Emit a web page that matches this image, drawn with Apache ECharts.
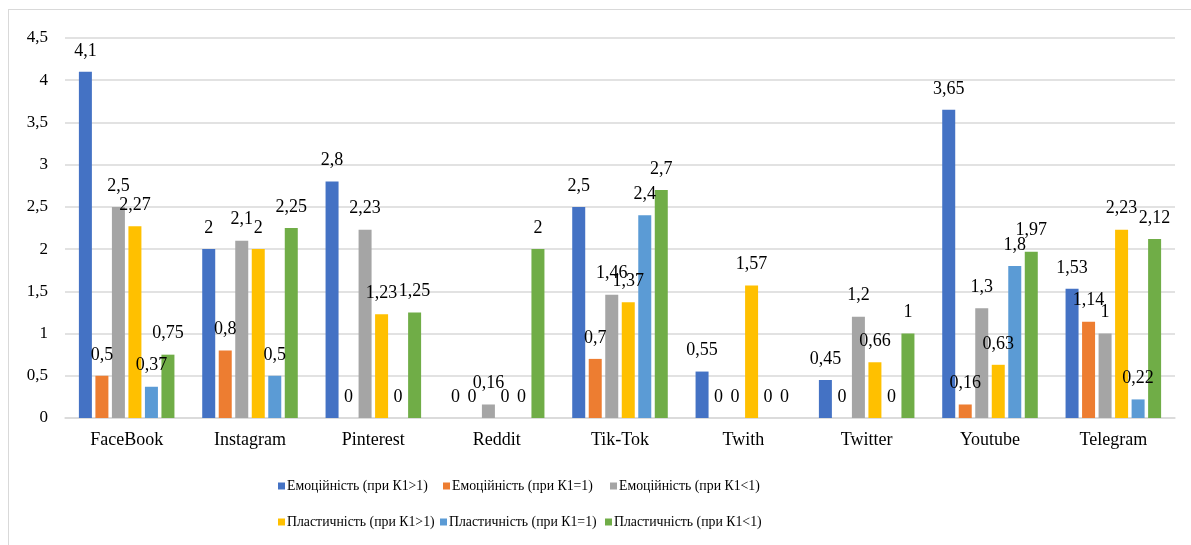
<!DOCTYPE html>
<html>
<head>
<meta charset="utf-8">
<script src="https://cdn.jsdelivr.net/npm/echarts@6/dist/echarts.min.js"></script>
<style>
html,body{margin:0;padding:0;background:#fff;}
#wrap{position:absolute;left:0;top:0;width:1191px;height:545px;}
#frame{position:absolute;left:8px;top:9px;width:1183px;height:536px;border-left:1px solid #d9d9d9;border-top:1px solid #d9d9d9;}
#chart{position:absolute;left:0;top:0;width:1191px;height:545px;}
</style>
</head>
<body>
<div id="wrap"><div id="frame"></div><div id="chart"></div></div>
<script>
const categories = ['FaceBook','Instagram','Pinterest','Reddit','Tik-Tok','Twith','Twitter','Youtube','Telegram'];
const seriesNames = ['Емоційність (при К1>1)','Емоційність (при К1=1)','Емоційність (при К1<1)',
  'Пластичність (при К1>1)','Пластичність (при К1=1)','Пластичність (при К1<1)'];
const emoGt1   = [4.1, 2, 2.8, 0, 2.5, 0.55, 0.45, 3.65, 1.53];
const emoEq1   = [0.5, 0.8, 0, 0, 0.7, 0, 0, 0.16, 1.14];
const emoLt1   = [2.5, 2.1, 2.23, 0.16, 1.46, 0, 1.2, 1.3, 1];
const plastGt1 = [2.27, 2, 1.23, 0, 1.37, 1.57, 0.66, 0.63, 2.23];
const plastEq1 = [0.37, 0.5, 0, 0, 2.4, 0, 0, 1.8, 0.22];
const plastLt1 = [0.75, 2.25, 1.25, 2, 2.7, 0, 1, 1.97, 2.12];
const yTicks = [0, 0.5, 1, 1.5, 2, 2.5, 3, 3.5, 4, 4.5];

const colors = ['#4472C4','#ED7D31','#A5A5A5','#FFC000','#5B9BD5','#70AD47'];
const allData = [emoGt1, emoEq1, emoLt1, plastGt1, plastEq1, plastLt1];
const font = '"Liberation Serif","Times New Roman",serif';
const fmt = v => String(v).replace('.', ',');

const legendLeft = [278, 443, 610, 278, 440, 605];
const legendTop  = [479, 479, 479, 515, 515, 515];

const chart = echarts.init(document.getElementById('chart'), null, {renderer:'canvas'});
chart.setOption({
  animation: false,
  color: colors,
  textStyle: {fontFamily: font},
  grid: {left: 65, right: 16, top: 38, bottom: 127, containLabel: false},
  legend: seriesNames.map((n, i) => ({
    data: [n], left: legendLeft[i], top: legendTop[i], padding: 0, itemWidth: 7, itemHeight: 7,
    icon: 'rect', textStyle: {fontFamily: font, fontSize: 13.8, color: '#000', padding: [0,0,0,-3]}
  })),
  xAxis: {
    type: 'category', data: categories,
    axisLine: {lineStyle: {color: '#d9d9d9', width: 1.5}},
    axisTick: {show: false},
    axisLabel: {fontFamily: font, fontSize: 18, color: '#000', margin: 13}
  },
  yAxis: {
    type: 'value', min: 0, max: 4.5, interval: 0.5,
    axisLine: {show: false}, axisTick: {show: false},
    splitLine: {lineStyle: {color: '#d9d9d9', width: 1.5}},
    axisLabel: {fontFamily: font, fontSize: 17, color: '#000', margin: 17,
      formatter: v => yTicks.includes(v) ? fmt(v) : ''}
  },
  series: seriesNames.map((n, i) => ({
    name: n, type: 'bar', data: allData[i], barWidth: 13, barGap: '27%',
    label: {show: true, position: 'top', distance: 12, fontFamily: font, fontSize: 18, color: '#000',
      formatter: p => fmt(p.value)}
  }))
});
</script>
</body>
</html>
